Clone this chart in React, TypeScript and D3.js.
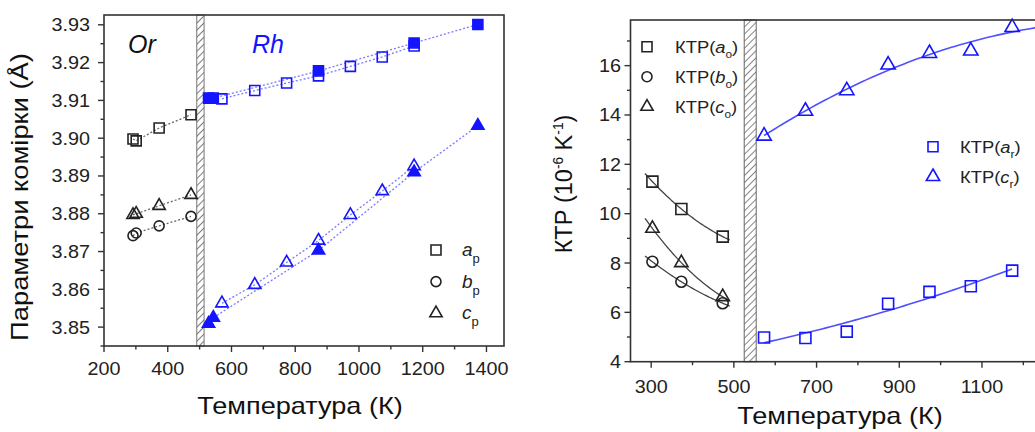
import React from "react";
import * as d3 from "d3";

// ---- Lattice parameters (left panel) ----
// orthorhombic phase, black open markers
const orT = [291, 301, 373, 473];
const orA = [3.8998, 3.8993, 3.9027, 3.9062];
const orB = [3.8742, 3.8749, 3.8768, 3.8793];
const orC = [3.8797, 3.88, 3.8821, 3.885];
// rhombohedral phase, filled markers
const rhT1 = [528, 543, 873, 1173, 1373];
const rhA1 = [3.9106, 3.9106, 3.9178, 3.9252, 3.9301];
const rhC1 = [3.8509, 3.8525, 3.8703, 3.891, 3.9033];
// rhombohedral phase, open markers
const rhT2 = [570, 673, 773, 873, 973, 1073, 1173];
const rhA2 = [3.9104, 3.9126, 3.9146, 3.9165, 3.919, 3.9215, 3.9244];
const rhC2 = [3.8563, 3.8612, 3.8671, 3.8729, 3.8797, 3.886, 3.8926];

const leftXTicks = [200, 400, 600, 800, 1000, 1200, 1400];
const leftYTicks = [3.85, 3.86, 3.87, 3.88, 3.89, 3.9, 3.91, 3.92, 3.93];

// ---- Thermal expansion coefficients (right panel) ----
const ktpOrT = [303, 373, 473];
const ktpAo = [11.3, 10.19, 9.07];
const ktpBo = [8.05, 7.24, 6.37];
const ktpCo = [9.4, 8.01, 6.63];
const ktpRhT = [573, 673, 773, 873, 973, 1073, 1173];
const ktpAr = [4.98, 4.96, 5.22, 6.35, 6.83, 7.06, 7.69];
const ktpCr = [13.15, 14.16, 14.99, 16.03, 16.5, 16.6, 17.55];

const rightXTicks = [300, 500, 700, 900, 1100];
const rightYTicks = [4, 6, 8, 10, 12, 14, 16];

const BLUE = "#1414ff";
const FONT = "'Liberation Sans', Arial, sans-serif";
const TICK_FS = 18;
const TICK_SX = 1.1;

// least-squares quadratic fit, used for the smooth trend curves
function quadFit(xs: number[], ys: number[]) {
  const n = xs.length;
  const x0 = d3.mean(xs) as number;
  const s = [0, 0, 0, 0, 0];
  const t = [0, 0, 0];
  for (let i = 0; i < n; i++) {
    const u = xs[i] - x0;
    for (let k = 0; k < 5; k++) s[k] += Math.pow(u, k);
    for (let k = 0; k < 3; k++) t[k] += ys[i] * Math.pow(u, k);
  }
  const M = [
    [s[0], s[1], s[2], t[0]],
    [s[1], s[2], s[3], t[1]],
    [s[2], s[3], s[4], t[2]],
  ];
  for (let c = 0; c < 3; c++) {
    for (let r = c + 1; r < 3; r++) {
      const f = M[r][c] / M[c][c];
      for (let k = c; k < 4; k++) M[r][k] -= f * M[c][k];
    }
  }
  const co = [0, 0, 0];
  for (let r = 2; r >= 0; r--) {
    let v = M[r][3];
    for (let k = r + 1; k < 3; k++) v -= M[r][k] * co[k];
    co[r] = v / M[r][r];
  }
  return (x: number) => {
    const u = x - x0;
    return co[0] + co[1] * u + co[2] * u * u;
  };
}

// text with a horizontal stretch along its own baseline
function SText({ x, y, sx = 1, rotate = 0, children, ...rest }: any) {
  return (
    <text transform={`translate(${x},${y}) rotate(${rotate}) scale(${sx},1)`} {...rest}>
      {children}
    </text>
  );
}

type Shape = "square" | "circle" | "triangle";
const symType = { square: d3.symbolSquare, circle: d3.symbolCircle, triangle: d3.symbolTriangle };

function Marker({ x, y, shape, color, filled, size }: { x: number; y: number; shape: Shape; color: string; filled?: boolean; size: number }) {
  const area = shape === "square" ? size * size : shape === "circle" ? Math.PI * (size / 2) * (size / 2) : (Math.sqrt(3) / 4) * size * size * 1.05;
  const d = d3.symbol().type(symType[shape]).size(area)() as string;
  return (
    <path
      d={d}
      transform={`translate(${x},${y})`}
      fill={filled ? color : "white"}
      fillOpacity={filled ? 1 : 0}
      stroke={color}
      strokeWidth={1.6}
    />
  );
}

function LeftPanel() {
  const x = d3.scaleLinear().domain([200, 1455]).range([104, 504]);
  const y = d3.scaleLinear().domain([3.845, 3.9326]).range([346, 15]);
  const [x0, x1] = x.range();
  const [y0, y1] = y.range();
  const line = (ts: number[], vs: number[]) =>
    d3.line<number>().x((_, i) => x(ts[i])).y((v) => y(v))(vs) as string;
  const minorX = d3.range(300, 1455, 200);
  const minorY = d3.range(3.845, 3.93, 0.01);

  const series: { t: number[]; v: number[]; shape: Shape; color: string; filled: boolean }[] = [
    { t: orT, v: orA, shape: "square", color: "#222", filled: false },
    { t: orT, v: orB, shape: "circle", color: "#222", filled: false },
    { t: orT, v: orC, shape: "triangle", color: "#222", filled: false },
    { t: rhT2, v: rhA2, shape: "square", color: BLUE, filled: false },
    { t: rhT2, v: rhC2, shape: "triangle", color: BLUE, filled: false },
    { t: rhT1, v: rhA1, shape: "square", color: BLUE, filled: true },
    { t: rhT1, v: rhC1, shape: "triangle", color: BLUE, filled: true },
  ];

  const legend: { shape: Shape; letter: string }[] = [
    { shape: "square", letter: "a" },
    { shape: "circle", letter: "b" },
    { shape: "triangle", letter: "c" },
  ];

  return (
    <g fontFamily={FONT}>
      {/* phase transition band */}
      <rect x={x(491)} y={y1} width={x(514) - x(491)} height={y0 - y1} fill="url(#hatchL)" stroke="#777" strokeWidth={1} />
      {/* dotted guides */}
      {series.map((s, i) => (
        <path key={"l" + i} d={line(s.t, s.v)} fill="none" stroke={s.color === BLUE ? "#7a7aff" : "#666"} strokeWidth={1.3} strokeDasharray="2,2" />
      ))}
      {series.map((s, i) =>
        s.t.map((t, j) => (
          <Marker key={`m${i}-${j}`} x={x(t)} y={y(s.v[j])} shape={s.shape} color={s.color} filled={s.filled} size={s.shape === "triangle" ? 12 : 10} />
        ))
      )}
      {/* frame */}
      <rect x={x0} y={y1} width={x1 - x0} height={y0 - y1} fill="none" stroke="#333" strokeWidth={1.6} />
      {/* x axis ticks */}
      {leftXTicks.map((t) => (
        <g key={"xt" + t}>
          <line x1={x(t)} x2={x(t)} y1={y0} y2={y0 + 6} stroke="#333" strokeWidth={1.4} />
          <SText x={x(t)} y={375} sx={TICK_SX} textAnchor="middle" fontSize={TICK_FS} fill="#222">{t}</SText>
        </g>
      ))}
      {minorX.map((t) => (
        <line key={"xm" + t} x1={x(t)} x2={x(t)} y1={y0} y2={y0 + 3.5} stroke="#333" strokeWidth={1.4} />
      ))}
      {/* y axis ticks */}
      {leftYTicks.map((t) => (
        <g key={"yt" + t}>
          <line x1={x0} x2={x0 - 6} y1={y(t)} y2={y(t)} stroke="#333" strokeWidth={1.4} />
          <SText x={90} y={y(t) + 6.5} sx={TICK_SX} textAnchor="end" fontSize={TICK_FS} fill="#222">{t.toFixed(2)}</SText>
        </g>
      ))}
      {minorY.map((t) => (
        <line key={"ym" + t} x1={x0} x2={x0 - 3.5} y1={y(t)} y2={y(t)} stroke="#333" strokeWidth={1.4} />
      ))}
      {/* phase labels */}
      <text x={128} y={53} fontSize={25} fontStyle="italic" fill="#111">Or</text>
      <text x={252} y={53} fontSize={25} fontStyle="italic" fill={BLUE}>Rh</text>
      {/* legend */}
      {legend.map((l, i) => (
        <g key={"lg" + i}>
          <Marker x={436} y={250 + i * 31.6} shape={l.shape} color="#222" size={l.shape === "triangle" ? 12 : 10} />
          <text x={462} y={256 + i * 31.6} fontSize={19} fill="#222">
            <tspan fontStyle="italic">{l.letter}</tspan>
            <tspan fontSize={13} dy={7}>p</tspan>
          </text>
        </g>
      ))}
      {/* titles */}
      <SText x={300} y={414} sx={1.13} textAnchor="middle" fontSize={24} fill="#111">Температура (К)</SText>
      <SText x={28} y={197} rotate={-90} sx={1.14} textAnchor="middle" fontSize={24} fill="#111">Параметри комірки (Å)</SText>
    </g>
  );
}

function RightPanel() {
  const x = d3.scaleLinear().domain([250, 1250]).range([630.5, 1044]);
  const y = d3.scaleLinear().domain([4, 17.85]).range([361.7, 20]);
  const [x0, x1] = x.range();
  const [y0, y1] = y.range();
  const curve = (ts: number[], vs: number[], from: number, to: number) => {
    const f = quadFit(ts, vs);
    const xs = d3.range(from, to + 0.1, (to - from) / 60);
    return d3.line<number>().x((t) => x(t)).y((t) => y(f(t)))(xs) as string;
  };
  const minorX = d3.range(400, 1250, 200);
  const minorY = d3.range(5, 17.5, 2);

  const orSeries: { v: number[]; shape: Shape }[] = [
    { v: ktpAo, shape: "square" },
    { v: ktpBo, shape: "circle" },
    { v: ktpCo, shape: "triangle" },
  ];
  const rhSeries: { v: number[]; shape: Shape; from: number; to: number }[] = [
    { v: ktpAr, shape: "square", from: 573, to: 1173 },
    { v: ktpCr, shape: "triangle", from: 573, to: 1250 },
  ];

  const legendOr: { shape: Shape; letter: string }[] = [
    { shape: "square", letter: "a" },
    { shape: "circle", letter: "b" },
    { shape: "triangle", letter: "c" },
  ];
  const legendRh: { shape: Shape; letter: string }[] = [
    { shape: "square", letter: "a" },
    { shape: "triangle", letter: "c" },
  ];

  return (
    <g fontFamily={FONT}>
      <rect x={x(525)} y={y1} width={x(554) - x(525)} height={y0 - y1} fill="url(#hatchR)" stroke="#666" strokeWidth={1} />
      {orSeries.map((s, i) => (
        <path key={"c" + i} d={curve(ktpOrT, s.v, 285, 490)} fill="none" stroke="#444" strokeWidth={1.3} />
      ))}
      {rhSeries.map((s, i) => (
        <path key={"cr" + i} d={curve(ktpRhT, s.v, s.from, s.to)} fill="none" stroke="#5050ff" strokeWidth={1.6} />
      ))}
      {orSeries.map((s, i) =>
        ktpOrT.map((t, j) => (
          <Marker key={`o${i}-${j}`} x={x(t)} y={y(s.v[j])} shape={s.shape} color="#222" size={s.shape === "triangle" ? 13 : 11} />
        ))
      )}
      {rhSeries.map((s, i) =>
        ktpRhT.map((t, j) => (
          <Marker key={`r${i}-${j}`} x={x(t)} y={y(s.v[j])} shape={s.shape} color={BLUE} size={s.shape === "triangle" ? 14 : 11} />
        ))
      )}
      {/* frame */}
      <rect x={x0} y={y1} width={x1 - x0} height={y0 - y1} fill="none" stroke="#333" strokeWidth={1.6} />
      {rightXTicks.map((t) => (
        <g key={"xt" + t}>
          <line x1={x(t)} x2={x(t)} y1={y0} y2={y0 + 6} stroke="#333" strokeWidth={1.4} />
          <SText x={x(t)} y={393} sx={TICK_SX} textAnchor="middle" fontSize={TICK_FS} fill="#222">{t}</SText>
        </g>
      ))}
      {minorX.map((t) => (
        <line key={"xm" + t} x1={x(t)} x2={x(t)} y1={y0} y2={y0 + 3.5} stroke="#333" strokeWidth={1.4} />
      ))}
      {rightYTicks.map((t) => (
        <g key={"yt" + t}>
          <line x1={x0} x2={x0 - 6} y1={y(t)} y2={y(t)} stroke="#333" strokeWidth={1.4} />
          <SText x={621} y={y(t) + 6.5} sx={TICK_SX} textAnchor="end" fontSize={TICK_FS} fill="#222">{t}</SText>
        </g>
      ))}
      {minorY.map((t) => (
        <line key={"ym" + t} x1={x0} x2={x0 - 3.5} y1={y(t)} y2={y(t)} stroke="#333" strokeWidth={1.4} />
      ))}
      {/* legends */}
      {legendOr.map((l, i) => (
        <g key={"lo" + i}>
          <Marker x={647} y={46.7 + i * 30} shape={l.shape} color="#222" size={l.shape === "triangle" ? 12 : 10} />
          <SText x={675} y={53 + i * 30} sx={1.08} fontSize={17} fill="#222">
            КТР(<tspan fontStyle="italic">{l.letter}</tspan>
            <tspan fontSize={11} dy={5}>o</tspan>
            <tspan dy={-5}>)</tspan>
          </SText>
        </g>
      ))}
      {legendRh.map((l, i) => (
        <g key={"lr" + i}>
          <Marker x={933} y={146.7 + i * 30} shape={l.shape} color={BLUE} size={l.shape === "triangle" ? 13 : 10} />
          <SText x={960} y={153 + i * 30} sx={1.08} fontSize={17} fill="#222">
            КТР(<tspan fontStyle="italic">{l.letter}</tspan>
            <tspan fontSize={11} dy={5}>r</tspan>
            <tspan dy={-5}>)</tspan>
          </SText>
        </g>
      ))}
      <SText x={840} y={424} sx={1.13} textAnchor="middle" fontSize={24} fill="#111">Температура (К)</SText>
      <SText x={572} y={184} rotate={-90} sx={0.98} textAnchor="middle" fontSize={24} fill="#111">
        КТР (10<tspan fontSize={14} dy={-9}>-6</tspan>
        <tspan dy={9}> K</tspan>
        <tspan fontSize={14} dy={-9}>-1</tspan>
        <tspan dy={9}>)</tspan>
      </SText>
    </g>
  );
}

export default function App() {
  return (
    <svg width={1035} height={432} style={{ position: "absolute", left: 0, top: 0, background: "white" }}>
      <defs>
        <pattern id="hatchL" patternUnits="userSpaceOnUse" width={5} height={5} patternTransform="rotate(45)">
          <line x1={0} y1={0} x2={0} y2={5} stroke="#333" strokeWidth={1.3} />
        </pattern>
        <pattern id="hatchR" patternUnits="userSpaceOnUse" width={5} height={5} patternTransform="rotate(45)">
          <line x1={0} y1={0} x2={0} y2={5} stroke="#333" strokeWidth={1.2} />
        </pattern>
      </defs>
      <rect width={1035} height={432} fill="white" />
      <LeftPanel />
      <RightPanel />
    </svg>
  );
}
